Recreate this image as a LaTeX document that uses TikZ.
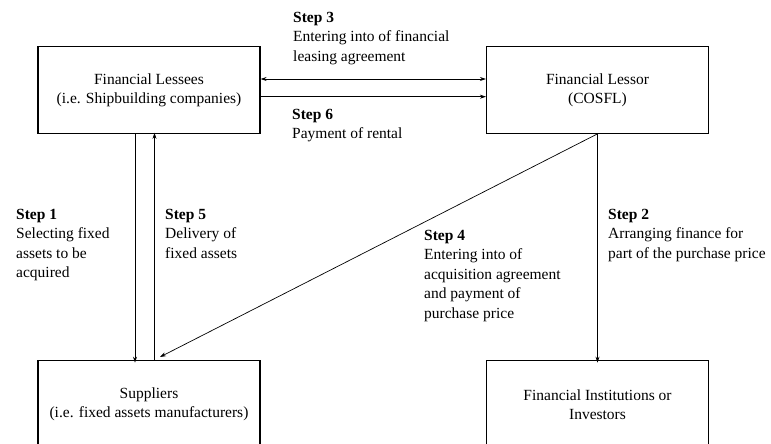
\documentclass[tikz,border=0pt]{standalone}
\usepackage{fontspec}
\setmainfont{Liberation Serif}
\usetikzlibrary{arrows.meta}
\begin{document}
\begin{tikzpicture}[x=1pt,y=-1pt,
  box/.style={draw,line width=1.1pt,minimum width=222pt,minimum height=87pt,inner sep=0pt,align=center,font=\fontsize{15.5}{19}\selectfont},
  lbl/.style={anchor=north west,inner sep=0pt,align=left,font=\fontsize{15.5}{19.5}\selectfont},
  arr/.style={line width=0.7pt,-{Stealth[length=6pt,width=4pt]}},
  darr/.style={line width=0.7pt,{Stealth[length=6pt,width=4pt]}-{Stealth[length=6pt,width=4pt]}}]
\useasboundingbox (0,0) rectangle (771,444);
\node[box] (lessee) at (149,89.8) {Financial Lessees\\(i.e. Shipbuilding companies)};
\node[box] (lessor) at (597.5,89.8) {Financial Lessor\\(COSFL)};
\node[box] (supp) at (149,404.2) {Suppliers\\(i.e. fixed assets manufacturers)};
\node[box] (fin) at (597.5,404.2) {Financial Institutions or\\Investors};
% connectors
\draw[darr] (lessee.east |- 0,79) -- (lessor.west |- 0,79);
\draw[arr] (lessee.east |- 0,96.7) -- (lessor.west |- 0,96.7);
\draw[arr] (lessee.south -| 135,0) -- ([yshift=-2.5pt]supp.north -| 135,0);
\draw[arr] (supp.north -| 154.5,0) -- ([yshift=1pt]lessee.south -| 154.5,0);
\coordinate (s4end) at (160,357);
\draw[arr] (lessor.south) -- (s4end);
\draw[arr] (lessor.south) -- ([yshift=-2.5pt]fin.north);
% labels
\node[lbl] (l3) at (293,12) {\textbf{Step 3}\\Entering into of financial\\leasing agreement};
\node[lbl] (l6) at (292,109) {\textbf{Step 6}\\Payment of rental};
\node[lbl] (l1) at (16,209) {\textbf{Step 1}\\Selecting fixed\\assets to be\\acquired};
\node[lbl] (l5) at (165,209) {\textbf{Step 5}\\Delivery of\\fixed assets};
\node[lbl] (l4) at (424,230) {\textbf{Step 4}\\Entering into of\\acquisition agreement\\and payment of\\purchase price};
\node[lbl] (l2) at (608,209) {\textbf{Step 2}\\Arranging finance for\\part of the purchase price};
\end{tikzpicture}
\end{document}
